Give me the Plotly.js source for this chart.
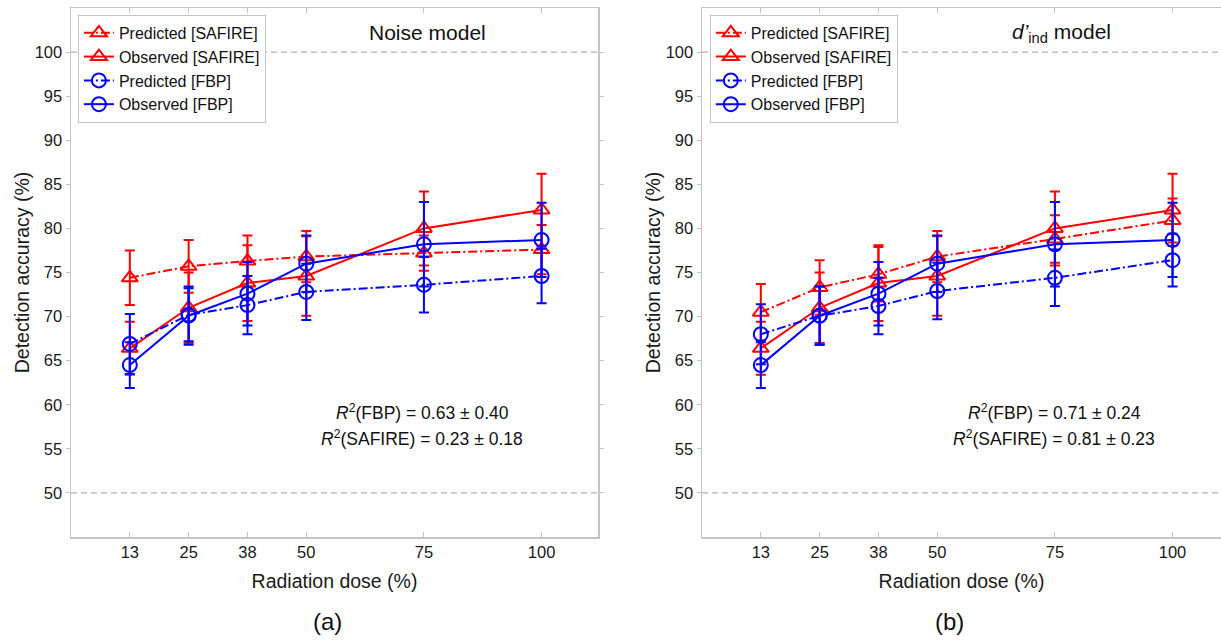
<!DOCTYPE html>
<html>
<head>
<meta charset="utf-8">
<script src="https://cdn.plot.ly/plotly-3.0.1.min.js"></script>
<style>html,body{margin:0;padding:0;background:#fff;}#chart{width:1221px;height:640px;}</style>
</head>
<body>
<div id="chart"></div>
<script>
// ---- data ----
const doseValues = [12.5, 25, 37.5, 50, 75, 100];
const doseTickLabels = ['13', '25', '38', '50', '75', '100'];
const accuracyTicks = [50, 55, 60, 65, 70, 75, 80, 85, 90, 95, 100];
const chanceLevels = [50, 100];

// observed (same in both panels)
const observedSafire = [66.4, 71.0, 73.8, 74.6, 80.0, 82.1];
const observedSafireErr = [3.0, 4.0, 4.3, 4.5, 4.2, 4.1];
const observedFbp = [64.5, 70.1, 72.6, 76.0, 78.2, 78.7];
const observedFbpErr = [2.6, 3.3, 3.6, 3.2, 4.8, 4.2];

// (a) noise model predictions
const predSafireNoise = [74.4, 75.7, 76.3, 76.8, 77.2, 77.6];
const predSafireNoiseErr = [3.1, 3.0, 2.9, 2.9, 2.0, 2.8];
const predFbpNoise = [66.9, 70.2, 71.3, 72.8, 73.6, 74.6];
const predFbpNoiseErr = [3.4, 3.0, 3.3, 3.2, 3.15, 3.1];

// (b) d'ind model predictions
const predSafireDind = [70.5, 73.3, 74.8, 76.8, 78.8, 80.9];
const predSafireDindErr = [3.2, 3.1, 3.1, 2.9, 2.7, 2.5];
const predFbpDind = [68.0, 70.1, 71.2, 72.9, 74.4, 76.4];
const predFbpDindErr = [3.4, 3.3, 3.2, 3.2, 3.2, 3.0];

const seriesNames = ['Predicted [SAFIRE]', 'Observed [SAFIRE]', 'Predicted [FBP]', 'Observed [FBP]'];
const panelTitles = ['Noise model', '<i>d’</i><sub>ind</sub> model'];
const panelLabels = ['(a)', '(b)'];
const r2Noise = ['<i>R</i><sup>2</sup>(FBP) = 0.63 ± 0.40', '<i>R</i><sup>2</sup>(SAFIRE) = 0.23 ± 0.18'];
const r2Dind = ['<i>R</i><sup>2</sup>(FBP) = 0.71 ± 0.24', '<i>R</i><sup>2</sup>(SAFIRE) = 0.81 ± 0.23'];

// ---- styling ----
const RED = '#ff0000', BLUE = '#0000ff';
const FONT = '"Liberation Sans", Arial, Helvetica, sans-serif';
const DASHDOT = '9px,3px,2px,3px';

function mk(y, err, color, symbol, dash, name, xa, ya, lg) {
  return {
    x: doseValues, y: y, name: name, type: 'scatter', mode: 'lines+markers',
    xaxis: xa, yaxis: ya, legend: lg,
    line: {color: color, width: 2, dash: dash},
    marker: {symbol: symbol, size: symbol.indexOf('triangle') === 0 ? 14 : 14, color: color, line: {color: color, width: 2}},
    error_y: {type: 'data', array: err, visible: true, color: color, thickness: 2, width: 5},
    hoverinfo: 'skip'
  };
}

const traces = [
  mk(predSafireNoise, predSafireNoiseErr, RED, 'triangle-up-open', DASHDOT, seriesNames[0], 'x', 'y', 'legend'),
  mk(observedSafire, observedSafireErr, RED, 'triangle-up-open', 'solid', seriesNames[1], 'x', 'y', 'legend'),
  mk(predFbpNoise, predFbpNoiseErr, BLUE, 'circle-open', DASHDOT, seriesNames[2], 'x', 'y', 'legend'),
  mk(observedFbp, observedFbpErr, BLUE, 'circle-open', 'solid', seriesNames[3], 'x', 'y', 'legend'),
  mk(predSafireDind, predSafireDindErr, RED, 'triangle-up-open', DASHDOT, seriesNames[0], 'x2', 'y2', 'legend2'),
  mk(observedSafire, observedSafireErr, RED, 'triangle-up-open', 'solid', seriesNames[1], 'x2', 'y2', 'legend2'),
  mk(predFbpDind, predFbpDindErr, BLUE, 'circle-open', DASHDOT, seriesNames[2], 'x2', 'y2', 'legend2'),
  mk(observedFbp, observedFbpErr, BLUE, 'circle-open', 'solid', seriesNames[3], 'x2', 'y2', 'legend2')
];

const AXCOL = '#c4c4c4';
function xax(domain, range, mirror) {
  return {
    domain: domain, range: range, tickmode: 'array', tickvals: doseValues, ticktext: doseTickLabels,
    ticks: 'inside', ticklen: 5, tickcolor: AXCOL, showline: true, linecolor: AXCOL, linewidth: 1.5, mirror: mirror,
    showgrid: false, zeroline: false, tickfont: {family: FONT, size: 16.5, color: '#1a1a1a'},
    title: {text: 'Radiation dose (%)', font: {family: FONT, size: 19.5, color: '#1a1a1a'}, standoff: 14}
  };
}
function yax(anchor) {
  return {
    anchor: anchor, range: [45, 105], tickmode: 'array', tickvals: accuracyTicks,
    ticks: 'outside', ticklen: 4, tickcolor: AXCOL, showline: true, linecolor: AXCOL, linewidth: 1.5,
    showgrid: false, zeroline: false, tickfont: {family: FONT, size: 16.5, color: '#1a1a1a'},
    title: {text: 'Detection accuracy (%)', font: {family: FONT, size: 19.5, color: '#1a1a1a'}, standoff: 0}
  };
}

const xa1 = xax([0, 0.4583], [0, 112], 'ticks');
const xa2 = xax([0.5487, 1], [0, 110.3], 'ticks');
const ya1 = yax('x'); ya1.mirror = 'ticks';
const ya2 = yax('x2');

const shapes = [];
chanceLevels.forEach(v => {
  ['x', 'x2'].forEach((xr, i) => {
    shapes.push({type: 'line', xref: xr + ' domain', yref: i === 0 ? 'y' : 'y2', x0: 0, x1: 1, y0: v, y1: v,
      line: {color: '#b0b0b0', width: 1.3, dash: '6px,4px'}, layer: 'below'});
  });
});

const annFont = {family: FONT, size: 17.5, color: '#111'};
const annotations = [
  {xref: 'x', yref: 'y', x: 75.7, y: 102.2, text: panelTitles[0], showarrow: false, font: {family: FONT, size: 21, color: '#111'}},
  {xref: 'x2', yref: 'y2', x: 76.5, y: 102.2, text: panelTitles[1], showarrow: false, font: {family: FONT, size: 21, color: '#111'}},
  {xref: 'x', yref: 'y', x: 74.6, y: 59.2, text: r2Noise[0], showarrow: false, font: annFont},
  {xref: 'x', yref: 'y', x: 74.6, y: 56.2, text: r2Noise[1], showarrow: false, font: annFont},
  {xref: 'x2', yref: 'y2', x: 74.9, y: 59.2, text: r2Dind[0], showarrow: false, font: annFont},
  {xref: 'x2', yref: 'y2', x: 74.9, y: 56.2, text: r2Dind[1], showarrow: false, font: annFont},
  {xref: 'x', yref: 'paper', x: 54.5, y: -0.16, yanchor: 'middle', text: panelLabels[0], showarrow: false, font: {family: FONT, size: 24, color: '#111'}},
  {xref: 'x2', yref: 'paper', x: 52.5, y: -0.16, yanchor: 'middle', text: panelLabels[1], showarrow: false, font: {family: FONT, size: 24, color: '#111'}}
];

const legendStyle = (x) => ({
  x: x, y: 0.987, xanchor: 'left', yanchor: 'top', xref: 'paper', yref: 'paper',
  bgcolor: '#ffffff', bordercolor: '#c4c4c4', borderwidth: 1,
  font: {family: FONT, size: 16, color: '#111'}, tracegroupgap: 0, itemwidth: 30
});

const layout = {
  width: 1221, height: 640, margin: {l: 71, r: 0, t: 8, b: 103},
  paper_bgcolor: '#ffffff', plot_bgcolor: '#ffffff', showlegend: true,
  xaxis: xa1, yaxis: ya1, xaxis2: xa2, yaxis2: ya2,
  legend: legendStyle(0.006), legend2: legendStyle(0.5555),
  shapes: shapes, annotations: annotations
};

Plotly.newPlot('chart', traces, layout, {staticPlot: true, displayModeBar: false});
</script>
</body>
</html>
